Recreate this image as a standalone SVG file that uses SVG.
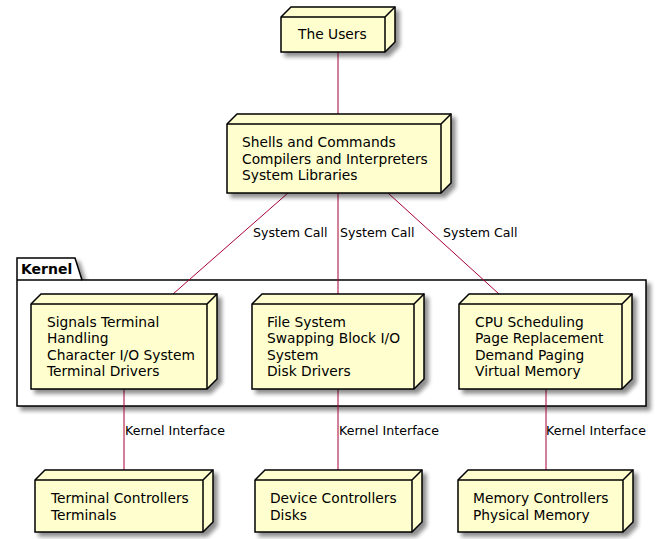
<svg xmlns="http://www.w3.org/2000/svg" width="663" height="539" viewBox="0 0 663 539">
<defs>
<filter id="sh" x="-10%" y="-10%" width="130%" height="130%">
<feGaussianBlur in="SourceAlpha" stdDeviation="2"/>
<feOffset dx="4" dy="4" result="b"/>
<feComponentTransfer><feFuncA type="linear" slope="0.45"/></feComponentTransfer>
<feMerge><feMergeNode/><feMergeNode in="SourceGraphic"/></feMerge>
</filter>
</defs>
<style>
.n{fill:#FEFECE;stroke:#000;stroke-width:1.5;filter:url(#sh)}
.e{fill:none;stroke:#000;stroke-width:1.5}
.t{font-family:"DejaVu Sans",sans-serif;font-size:13.8px;fill:#000}
.l{font-family:"DejaVu Sans",sans-serif;font-size:12.6px;fill:#000}
.c{stroke:#A80036;stroke-width:1;fill:none}
.pk{fill:#FFFFFF;stroke:#000;stroke-width:1.5;filter:url(#sh)}
.pt{font-family:"DejaVu Sans",sans-serif;font-size:14px;font-weight:bold;fill:#000}
</style>
<rect width="663" height="539" fill="#FFFFFF"/>
<g id="kernel">
<path class="pk" d="M17,258 L75,258 L82,280 L646,280 L646,406 L17,406 Z"/>
<path class="e" d="M17,280 L82,280"/>
<text class="pt" x="21" y="274">Kernel</text>
</g>
<g id="connectors">
<path class="c" d="M338,52 L338,114"/>
<path class="c" d="M288,193 L173,294"/>
<path class="c" d="M338,193 L338,294"/>
<path class="c" d="M388,193 L499,294"/>
<path class="c" d="M124,389 L124,470"/>
<path class="c" d="M338,389 L338,470"/>
<path class="c" d="M546,389 L546,470"/>
<text class="l" x="253" y="237">System Call</text>
<text class="l" x="340" y="237">System Call</text>
<text class="l" x="443" y="237">System Call</text>
<text class="l" x="125" y="435">Kernel Interface</text>
<text class="l" x="339" y="435">Kernel Interface</text>
<text class="l" x="546" y="435">Kernel Interface</text>
</g>
<g id="users">
<path class="n" d="M281,17 L291,7 L395,7 L395,42 L385,52 L281,52 Z"/>
<path class="e" d="M281,17 L385,17 L395,7 M385,17 L385,52"/>
<text class="t" x="298" y="39">The Users</text>
</g>
<g id="shells">
<path class="n" d="M227,124 L237,114 L451,114 L451,183 L441,193 L227,193 Z"/>
<path class="e" d="M227,124 L441,124 L451,114 M441,124 L441,193"/>
<text class="t" x="242" y="147">Shells and Commands</text>
<text class="t" x="242" y="164">Compilers and Interpreters</text>
<text class="t" x="242" y="180">System Libraries</text>
</g>
<g id="signals">
<path class="n" d="M31,304 L41,294 L217,294 L217,379 L207,389 L31,389 Z"/>
<path class="e" d="M31,304 L207,304 L217,294 M207,304 L207,389"/>
<text class="t" x="47" y="327">Signals Terminal</text>
<text class="t" x="47" y="343">Handling</text>
<text class="t" x="47" y="360">Character I/O System</text>
<text class="t" x="47" y="376">Terminal Drivers</text>
</g>
<g id="filesystem">
<path class="n" d="M252,304 L262,294 L424,294 L424,379 L414,389 L252,389 Z"/>
<path class="e" d="M252,304 L414,304 L424,294 M414,304 L414,389"/>
<text class="t" x="267" y="327">File System</text>
<text class="t" x="267" y="343">Swapping Block I/O</text>
<text class="t" x="267" y="360">System</text>
<text class="t" x="267" y="376">Disk Drivers</text>
</g>
<g id="cpu">
<path class="n" d="M459,304 L469,294 L632,294 L632,379 L622,389 L459,389 Z"/>
<path class="e" d="M459,304 L622,304 L632,294 M622,304 L622,389"/>
<text class="t" x="475" y="327">CPU Scheduling</text>
<text class="t" x="475" y="343">Page Replacement</text>
<text class="t" x="475" y="360">Demand Paging</text>
<text class="t" x="475" y="376">Virtual Memory</text>
</g>
<g id="terminals">
<path class="n" d="M35,480 L45,470 L213,470 L213,522 L203,532 L35,532 Z"/>
<path class="e" d="M35,480 L203,480 L213,470 M203,480 L203,532"/>
<text class="t" x="51" y="503">Terminal Controllers</text>
<text class="t" x="51" y="520">Terminals</text>
</g>
<g id="devices">
<path class="n" d="M255,480 L265,470 L422,470 L422,522 L412,532 L255,532 Z"/>
<path class="e" d="M255,480 L412,480 L422,470 M412,480 L412,532"/>
<text class="t" x="270" y="503">Device Controllers</text>
<text class="t" x="270" y="520">Disks</text>
</g>
<g id="memory">
<path class="n" d="M458,480 L468,470 L633,470 L633,522 L623,532 L458,532 Z"/>
<path class="e" d="M458,480 L623,480 L633,470 M623,480 L623,532"/>
<text class="t" x="473" y="503">Memory Controllers</text>
<text class="t" x="473" y="520">Physical Memory</text>
</g>
</svg>
